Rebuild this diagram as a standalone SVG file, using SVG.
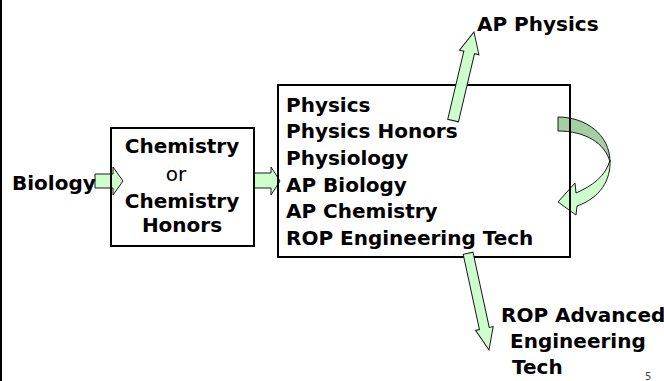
<svg xmlns="http://www.w3.org/2000/svg" width="664" height="381" viewBox="0 0 664 381">
<style>
.t{font-family:"DejaVu Sans",Verdana,sans-serif;font-size:20px;font-weight:bold;fill:#000}
.n{font-weight:normal}
.box{fill:none;stroke:#000;stroke-width:2}
.arr{fill:#ccffcc;stroke:#1a1a1a;stroke-width:1;stroke-linejoin:miter}
.dark{fill:#a3cfa3;stroke:#1a1a1a;stroke-width:1}
</style>
<rect x="0" y="0" width="664" height="381" fill="#fff"/>
<line x1="1" y1="0" x2="1" y2="381" stroke="#000" stroke-width="2"/>
<g id="connectors">
<path class="arr" d="M95,174 H113 V167 L123,181 L113,195 V188 H95 Z"/>
<path class="arr" d="M254,173 H271 V167 L280,181 L271,195 V188 H254 Z"/>
<path class="dark" d="M558,117 C585,117 610,134 610,162 C605,143 585,131 558,131 Z"/>
<path class="arr" d="M610,160 C611,180 600,198 577,206 L576,215 L558,202 L575,183 L576,193 C592,186 606,176 610,160 Z"/>
</g>
<g id="biology"><text class="t" x="12" y="190">Biology</text></g>
<g id="chem"><rect class="box" x="111" y="128" width="143" height="118"/>
<text class="t" text-anchor="middle" x="182" y="153">Chemistry</text>
<text class="t n" text-anchor="middle" x="176" y="181">or</text>
<text class="t" text-anchor="middle" x="182" y="208">Chemistry</text>
<text class="t" text-anchor="middle" x="182" y="232">Honors</text></g>
<g id="courses"><rect class="box" x="278" y="85" width="292" height="172"/>
<text class="t" x="286" y="111.5">Physics</text>
<text class="t" x="286" y="138.2">Physics Honors</text>
<text class="t" x="286" y="164.9">Physiology</text>
<text class="t" x="286" y="191.6">AP Biology</text>
<text class="t" x="286" y="218.3">AP Chemistry</text>
<text class="t" x="286" y="245">ROP Engineering Tech</text></g>
<g id="apphysics"><text class="t" x="477" y="31">AP Physics</text></g>
<g id="ropadv"><text class="t" x="501" y="322">ROP Advanced</text>
<text class="t" x="510" y="348">Engineering</text>
<text class="t" x="512" y="374">Tech</text></g>
<g id="connectors-top">
<path class="arr" transform="translate(474,32) rotate(13.3)" d="M0,0 L10,21 L5.5,21 L5.5,91 L-5.5,91 L-5.5,21 L-10,21 Z"/>
<path class="arr" transform="translate(489,350) rotate(-12.2)" d="M0,0 L9,-22 L5,-22 L5,-99 L-5,-99 L-5,-22 L-9,-22 Z"/>
</g>
<text x="645" y="380" font-family="DejaVu Sans,sans-serif" font-size="10" fill="#444">5</text>
</svg>
